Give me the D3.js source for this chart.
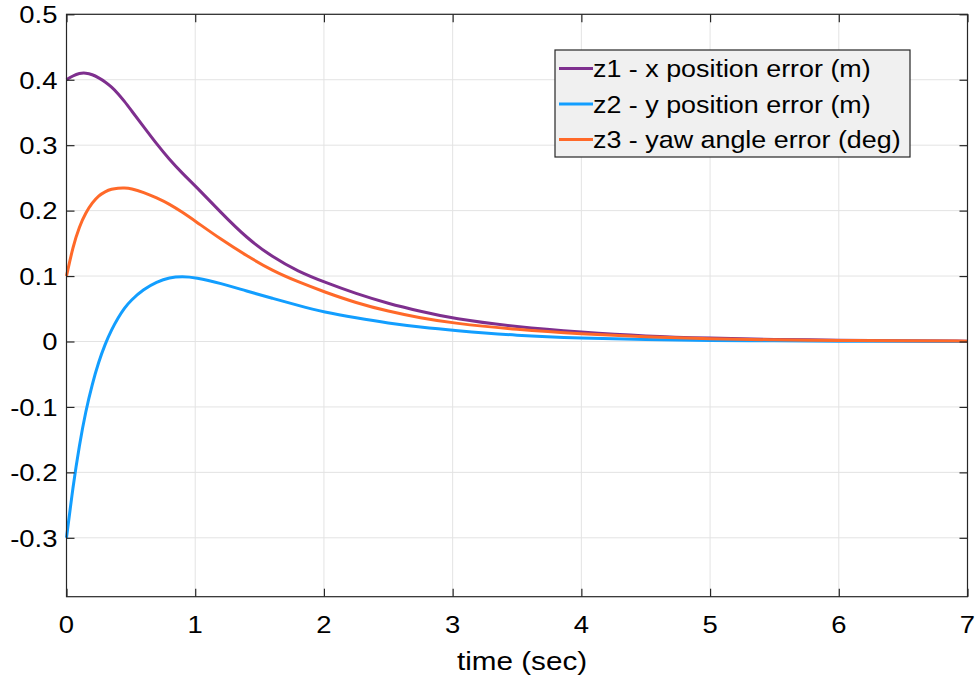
<!DOCTYPE html>
<html>
<head>
<meta charset="utf-8">
<script src="https://cdn.jsdelivr.net/npm/d3@7"></script>
<style>
  html, body { margin: 0; padding: 0; background: #fff; }
  svg { display: block; }
  text { font-family: "Liberation Sans", Arial, Helvetica, sans-serif; fill: #000; }
</style>
</head>
<body>
<svg id="chart" width="979" height="682"></svg>
<script>
// ---- data ----
const time = [0, 0.05, 0.1, 0.15, 0.2, 0.25, 0.3, 0.35, 0.4, 0.45, 0.5, 0.6, 0.7, 0.8, 0.9, 1.0, 1.2, 1.4, 1.6, 1.8, 2.0, 2.25, 2.5, 2.75, 3.0, 3.5, 4.0, 4.5, 5.0, 5.5, 6.0, 6.5, 7.0];
const z1 = [0.400, 0.406, 0.410, 0.4105, 0.408, 0.403, 0.397, 0.389, 0.379, 0.367, 0.354, 0.328, 0.302, 0.278, 0.257, 0.238, 0.197, 0.158, 0.129, 0.107, 0.091, 0.073, 0.058, 0.046, 0.035, 0.022, 0.014, 0.008, 0.005, 0.003, 0.002, 0.001, 0.0005];
const z2 = [-0.300, -0.222, -0.158, -0.106, -0.065, -0.031, -0.004, 0.018, 0.036, 0.051, 0.063, 0.080, 0.091, 0.098, 0.0995, 0.098, 0.089, 0.077, 0.066, 0.055, 0.045, 0.036, 0.028, 0.022, 0.017, 0.009, 0.005, 0.003, 0.0015, 0.001, 0.0005, 0.0002, 0.0];
const z3 = [0.100, 0.145, 0.176, 0.197, 0.212, 0.223, 0.229, 0.233, 0.2345, 0.2347, 0.234, 0.228, 0.2195, 0.210, 0.1975, 0.184, 0.156, 0.131, 0.108, 0.091, 0.076, 0.059, 0.046, 0.036, 0.028, 0.018, 0.0115, 0.007, 0.004, 0.0025, 0.0015, 0.001, 0.0005];
const seriesNames = ["z1 - x position error (m)", "z2 - y position error (m)", "z3 - yaw angle error (deg)"];
const seriesColors = ["#7E2F8E", "#129EFF", "#FF6929"];
const xTicks = [0, 1, 2, 3, 4, 5, 6, 7];
const yTicks = [-0.3, -0.2, -0.1, 0, 0.1, 0.2, 0.3, 0.4, 0.5];
const yTickLabels = ["-0.3", "-0.2", "-0.1", "0", "0.1", "0.2", "0.3", "0.4", "0.5"];
const xLabel = "time (sec)";

// ---- layout ----
const L = 66.5, R = 967.5, T = 14.3, B = 596.7;
const sx = 1.12; // horizontal text stretch seen in the reference
const svg = d3.select("#chart");
const x = d3.scaleLinear().domain([0, 7]).range([L, R]);
const y = d3.scaleLinear().domain([-0.39, 0.5]).range([B, T]);

// grid
const grid = svg.append("g").attr("stroke", "#e3e3e3").attr("stroke-width", 1);
grid.selectAll("line.gx").data(xTicks).join("line")
  .attr("x1", d => x(d)).attr("x2", d => x(d)).attr("y1", T).attr("y2", B);
grid.selectAll("line.gy").data(yTicks).join("line")
  .attr("x1", L).attr("x2", R).attr("y1", d => y(d)).attr("y2", d => y(d));

// series
const line = d3.line().x((d, i) => x(time[i])).y(d => y(d)).curve(d3.curveBasis);
const series = [z1, z2, z3];
svg.append("g").selectAll("path").data(series).join("path")
  .attr("d", d => line(d))
  .attr("fill", "none")
  .attr("stroke", (d, i) => seriesColors[i])
  .attr("stroke-width", 3)
  .attr("stroke-linejoin", "round");

// axes (ticks inward on all 4 sides)
const tk = 8;
const axColor = "#262626";
function styleAxis(g) {
  g.select(".domain").remove();
  g.selectAll(".tick line").attr("stroke", axColor).attr("stroke-width", 1.2);
}
svg.append("g").attr("transform", `translate(0,${B})`)
  .call(d3.axisBottom(x).tickValues(xTicks).tickSize(-tk).tickFormat(""))
  .call(styleAxis);
svg.append("g").attr("transform", `translate(0,${T})`)
  .call(d3.axisTop(x).tickValues(xTicks).tickSize(-tk).tickFormat(""))
  .call(styleAxis);
svg.append("g").attr("transform", `translate(${L},0)`)
  .call(d3.axisLeft(y).tickValues(yTicks).tickSize(-tk).tickFormat(""))
  .call(styleAxis);
svg.append("g").attr("transform", `translate(${R},0)`)
  .call(d3.axisRight(y).tickValues(yTicks).tickSize(-tk).tickFormat(""))
  .call(styleAxis);

// box
svg.append("rect").attr("x", L).attr("y", T).attr("width", R - L).attr("height", B - T)
  .attr("fill", "none").attr("stroke", axColor).attr("stroke-width", 1.2);

// tick labels
svg.append("g").selectAll("text").data(yTicks).join("text")
  .attr("transform", d => `translate(${L - 9},${y(d)}) scale(${sx},1)`)
  .attr("text-anchor", "end").attr("dy", "0.36em")
  .style("font-size", "24.5px")
  .text((d, i) => yTickLabels[i]);
svg.append("g").selectAll("text").data(xTicks).join("text")
  .attr("transform", d => `translate(${x(d)},${B + 36}) scale(${sx},1)`)
  .attr("text-anchor", "middle")
  .style("font-size", "24.5px")
  .text(d => d);
svg.append("text")
  .attr("transform", `translate(${(L + R) / 2 + 5},${B + 73}) scale(${sx},1)`)
  .attr("text-anchor", "middle")
  .style("font-size", "26.5px")
  .text(xLabel);

// legend
const lg = svg.append("g");
lg.append("rect").attr("x", 555).attr("y", 50).attr("width", 355).attr("height", 107)
  .attr("fill", "#f0f0f0").attr("stroke", axColor).attr("stroke-width", 1.2);
const rows = lg.selectAll("g.row").data(seriesNames).join("g")
  .attr("transform", (d, i) => `translate(0,${68.5 + i * 35.5})`);
rows.append("line").attr("x1", 559).attr("x2", 593).attr("y1", 0).attr("y2", 0)
  .attr("stroke", (d, i) => seriesColors[i]).attr("stroke-width", 3);
rows.append("text")
  .attr("transform", `translate(593,0) scale(${sx},1)`)
  .attr("dy", "0.36em")
  .style("font-size", "24px")
  .text(d => d);
</script>
</body>
</html>
